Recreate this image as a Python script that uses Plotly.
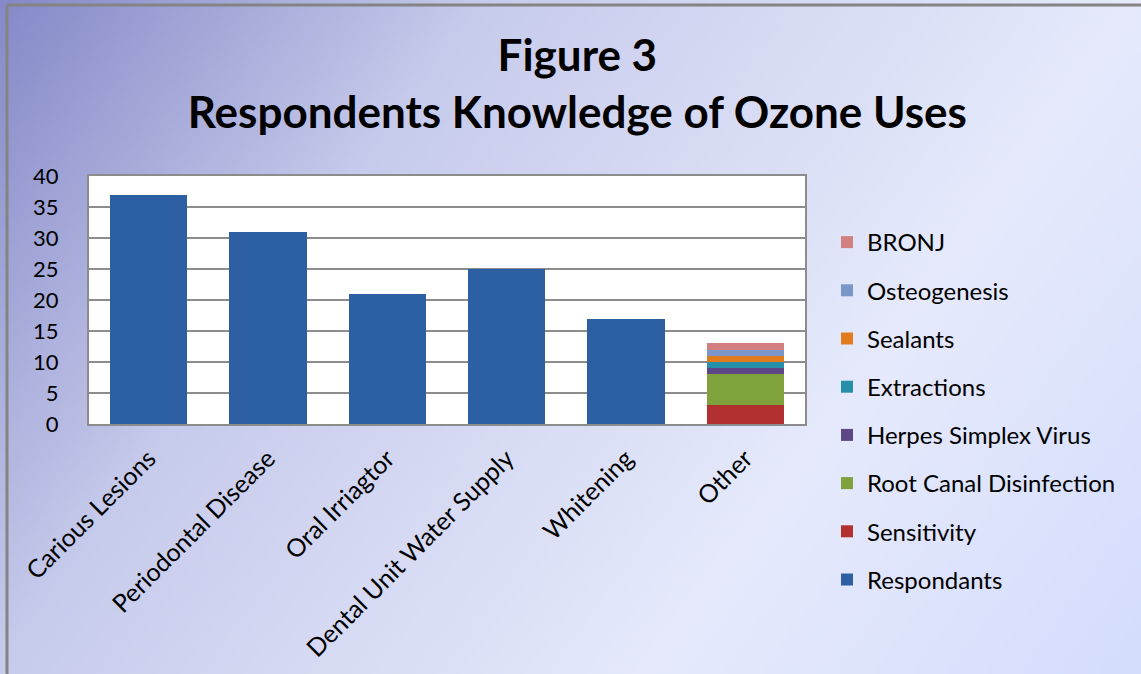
import base64, struct, zlib
import numpy as np
import plotly.graph_objects as go

# ---------------- data ----------------
categories = ["Carious Lesions", "Periodontal Disease", "Oral Irriagtor",
              "Dental Unit Water Supply", "Whitening", "Other"]
respondants = [37, 31, 21, 25, 17, None]
other_series = ["Sensitivity", "Root Canal Disinfection", "Herpes Simplex Virus",
                "Extractions", "Sealants", "Osteogenesis", "BRONJ"]
other_values = [3, 5, 1, 1, 1, 1, 1]
other_colors = ["#b2302f", "#7fa23d", "#5e4787", "#2690aa", "#e27a1e", "#7b97c9", "#d27f7f"]
y_ticks = [0, 5, 10, 15, 20, 25, 30, 35, 40]

W, H = 1141, 674
L, R, T, B = 89, 336, 176, 250


# ---------------- background gradient image ----------------
def gradient_png(w, h):
    xs = np.linspace(0, 1, w)[None, :]
    ys = np.linspace(0, 1, h)[:, None]
    t = 0.7 * xs + 0.3 * ys
    stops_t = [0.0, 0.3, 0.7, 1.0]
    stops_c = np.array([(134, 138, 200), (200, 204, 236), (230, 234, 252), (212, 221, 252)], float)
    img = np.zeros((h, w, 3))
    for c in range(3):
        img[:, :, c] = np.interp(t, stops_t, stops_c[:, c])
    img = img.astype(np.uint8)
    raw = b"".join(b"\x00" + img[r].tobytes() for r in range(h))

    def chunk(tag, data):
        return struct.pack(">I", len(data)) + tag + data + struct.pack(">I", zlib.crc32(tag + data) & 0xffffffff)

    png = b"\x89PNG\r\n\x1a\n" + chunk(b"IHDR", struct.pack(">IIBBBBB", w, h, 8, 2, 0, 0, 0)) \
        + chunk(b"IDAT", zlib.compress(raw, 9)) + chunk(b"IEND", b"")
    return "data:image/png;base64," + base64.b64encode(png).decode()


bg = gradient_png(228, 135)

n_series = 1 + len(other_series)
fig = go.Figure()
fig.add_trace(go.Bar(x=categories, y=respondants, name="Respondants",
                     marker=dict(color="#2d5fa3", line=dict(width=0)),
                     legendgroup="g0", legendrank=n_series))
for i, (name, val, col) in enumerate(zip(other_series, other_values, other_colors)):
    yv = [None] * (len(categories) - 1) + [val]
    fig.add_trace(go.Bar(x=categories, y=yv, name=name,
                         marker=dict(color=col, line=dict(width=0)),
                         legendgroup=f"g{i+1}", legendrank=n_series - 1 - i))

px2x = lambda p: (p - L) / (W - L - R)
px2y = lambda p: (H - B - p) / (H - T - B)

fig.update_layout(
    width=W, height=H,
    margin=dict(l=L, r=R, t=T, b=B),
    barmode="stack", bargap=0.35,
    paper_bgcolor="#dfe4fa", plot_bgcolor="white",
    font=dict(family="Lato, 'Open Sans', sans-serif", size=22, color="black"),
    title=dict(text="<b>Figure 3<br>Respondents Knowledge of Ozone Uses</b>",
               x=0.506, xanchor="center", y=1 - 71 / H, yanchor="middle",
               font=dict(size=44, color="black")),
    xaxis=dict(tickangle=-45, showgrid=False, showline=True, linecolor="#8c8c8c",
               linewidth=2, mirror=True, ticks="", ticklabelstandoff=8,
               tickfont=dict(size=25)),
    yaxis=dict(range=[0, 40], tickvals=y_ticks, showgrid=True, gridcolor="#8c8c8c",
               gridwidth=2, showline=True, linecolor="#8c8c8c", linewidth=2, mirror=True,
               ticks="", ticklabelstandoff=24, zeroline=False, tickfont=dict(size=22)),
    legend=dict(x=px2x(827), xanchor="left", y=px2y(220), yanchor="top",
                traceorder="grouped", tracegroupgap=14, maxheight=460,
                bgcolor="rgba(0,0,0,0)", font=dict(size=24)),
    images=[dict(source=bg, xref="paper", yref="paper", x=px2x(0), y=px2y(0),
                 sizex=px2x(W) - px2x(0), sizey=px2y(0) - px2y(H),
                 sizing="stretch", layer="below", xanchor="left", yanchor="top")],
    shapes=[dict(type="rect", xref="paper", yref="paper", x0=0, x1=1, y0=0, y1=1,
                 fillcolor="white", line=dict(width=0), layer="below"),
            dict(type="line", xref="paper", yref="paper", x0=px2x(7), x1=px2x(W + 5),
                 y0=px2y(5), y1=px2y(5), line=dict(color="#848484", width=3)),
            dict(type="line", xref="paper", yref="paper", x0=px2x(7), x1=px2x(7),
                 y0=px2y(5), y1=px2y(H + 5), line=dict(color="#848484", width=3))],
    showlegend=True,
)

fig.write_html("out.html", config={"displayModeBar": False},
               post_script="document.body.style.margin='0';")
